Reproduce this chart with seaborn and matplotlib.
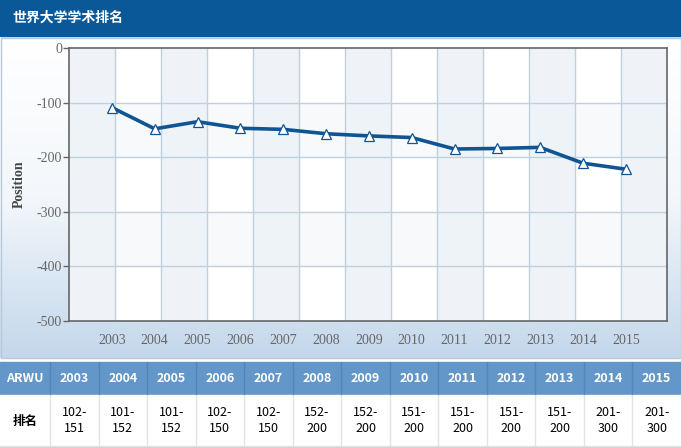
import numpy as np
import pandas as pd
import matplotlib
matplotlib.use("Agg")
import matplotlib.pyplot as plt
from matplotlib.patches import Rectangle
import seaborn as sns

sns.set_style("white")
plt.rcParams['font.family'] = ['Noto Sans CJK SC', 'DejaVu Sans']

title = "世界大学学术排名"
years = [2003, 2004, 2005, 2006, 2007, 2008, 2009, 2010, 2011, 2012, 2013, 2014, 2015]
position = [-109, -148, -135, -147, -149, -157, -161, -164, -185, -184, -182, -211, -222]
rank_text = ["102-\n151", "101-\n152", "101-\n152", "102-\n150", "102-\n150", "152-\n200", "152-\n200",
             "151-\n200", "151-\n200", "151-\n200", "151-\n200", "201-\n300", "201-\n300"]
row_head = ["ARWU", "排名"]

df = pd.DataFrame({"year": years, "position": position})

W, H = 681, 447
fig = plt.figure(figsize=(W / 100, H / 100), dpi=100)

# background layer in pixel coords
bg = fig.add_axes([0, 0, 1, 1])
bg.set_xlim(0, W)
bg.set_ylim(H, 0)
bg.axis("off")

# header bar
bg.add_patch(Rectangle((0, 0), W, 36, color="#0b5899"))
bg.text(12, 18, title, color="white", fontsize=10, fontweight="bold", va="center", ha="left")

# chart panel with gradient
grad = np.linspace(0, 1, 256).reshape(-1, 1)
cmap = matplotlib.colors.LinearSegmentedColormap.from_list("pnl", ["#ffffff", "#f3f7fb", "#c3d7eb"])
bg.imshow(grad, extent=(0, W, 358, 38), cmap=cmap, aspect="auto", zorder=0)
bg.add_patch(Rectangle((0.5, 38), W - 1, 320, fill=False, edgecolor="#b9c9d8", lw=1))
bg.set_xlim(0, W)
bg.set_ylim(H, 0)

# table
top, mid, bot = 362, 395, 447
first_w = 50
col_w = (W - first_w) / len(years)
bg.add_patch(Rectangle((0, top), W, mid - top, color="#6497c9"))
bg.add_patch(Rectangle((0, mid), W, bot - mid, color="#ffffff"))
xs = [0, first_w] + [first_w + col_w * (i + 1) for i in range(len(years))]
for x in xs[1:-1]:
    bg.plot([x, x], [top, mid], color="#4f84bd", lw=1)
    bg.plot([x, x], [mid, bot], color="#e3e3e3", lw=1)
bg.plot([0, W], [bot - 1, bot - 1], color="#e3e3e3", lw=1)
bg.text(first_w / 2, (top + mid) / 2, row_head[0], color="white", fontsize=9, fontweight="bold",
        ha="center", va="center")
bg.text(first_w / 2, (mid + bot) / 2, row_head[1], color="black", fontsize=9, fontweight="bold",
        ha="center", va="center")
for i, (yr, rt) in enumerate(zip(years, rank_text)):
    cx = first_w + col_w * (i + 0.5)
    bg.text(cx, (top + mid) / 2, str(yr), color="white", fontsize=9, fontweight="bold",
            ha="center", va="center")
    bg.text(cx, (mid + bot) / 2, rt, color="black", fontsize=9, ha="center", va="center",
            linespacing=1.3)

# main plot
px0, px1, py0, py1 = 69, 667, 48, 321
ax = fig.add_axes([px0 / W, (H - py1) / H, (px1 - px0) / W, (py1 - py0) / H])
xmin, xmax = 2002.0, 2015.96
ax.set_xlim(xmin, xmax)
ax.set_ylim(-500, 0)

ncol = 13
cw = (xmax - xmin) / ncol
for k in range(ncol):
    if k % 2 == 0:
        ax.axvspan(xmin + k * cw, xmin + (k + 1) * cw, color="#eaf0f5", alpha=0.75, lw=0, zorder=0)
for k in range(5):
    if k % 2 == 1:
        ax.axhspan(-100 * k, -100 * (k + 1), color="#eef3f8", alpha=0.45, lw=0, zorder=0)
for k in range(1, ncol):
    ax.axvline(xmin + k * cw, color="#bfd1de", lw=1, zorder=1)
for v in [-100, -200, -300, -400]:
    ax.axhline(v, color="#bfd1de", lw=1, zorder=1)

sns.lineplot(data=df, x="year", y="position", ax=ax, color="#0f5594", lw=2.6, marker="^",
             markersize=7, markerfacecolor="white", markeredgecolor="#0f5594", markeredgewidth=0.9,
             zorder=3)

ax.set_xticks(years)
ax.set_xticklabels([str(y) for y in years])
ax.set_yticks([0, -100, -200, -300, -400, -500])
ax.set_yticklabels(["0", "-100", "-200", "-300", "-400", "-500"])
serif = ["Liberation Serif", "DejaVu Serif"]
for lab in ax.get_xticklabels() + ax.get_yticklabels():
    lab.set_family(serif)
    lab.set_color("#666666")
    lab.set_fontsize(10)
ax.tick_params(axis="x", length=0, pad=9)
ax.tick_params(axis="y", length=4, width=1, color="#666666", left=True, pad=1)
ax.set_xlabel("")
ax.set_ylabel("Position", family=serif, fontweight="bold", fontsize=10, color="#444444", labelpad=8)
for s in ax.spines.values():
    s.set_color("#666666")
    s.set_linewidth(1.2)
ax.patch.set_facecolor("white")

fig.savefig("out.png", dpi=100)
